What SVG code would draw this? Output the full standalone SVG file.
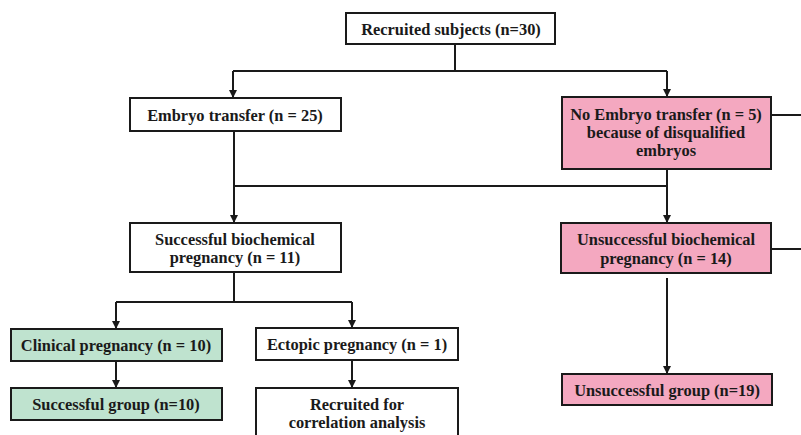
<svg xmlns="http://www.w3.org/2000/svg" width="801" height="435" viewBox="0 0 801 435">
<style>
.box{stroke:#1a1a1a;stroke-width:2;}
.w{fill:#ffffff;}
.p{fill:#f4a8c0;}
.g{fill:#bfe3cf;}
text{font-family:"Liberation Serif","Times New Roman",serif;font-weight:bold;font-size:16.4px;fill:#1a1a1a;text-anchor:middle;}
.ln{stroke:#1a1a1a;stroke-width:2;fill:none;}
</style>
<defs>
<marker id="ah" viewBox="0 0 10 10" refX="10" refY="5" markerWidth="8" markerHeight="8" markerUnits="userSpaceOnUse" orient="auto">
<path d="M0,0 L10,5 L0,10 Z" fill="#1a1a1a"/>
</marker>
</defs>
<rect width="801" height="435" fill="#ffffff"/>
<g id="connectors">
<path class="ln" d="M455,44 V71"/>
<path class="ln" d="M233,71 H667"/>
<path class="ln" d="M233,71 V98" marker-end="url(#ah)"/>
<path class="ln" d="M667,71 V97" marker-end="url(#ah)"/>
<path class="ln" d="M771,115 H801"/>
<path class="ln" d="M234,131 V223" marker-end="url(#ah)"/>
<path class="ln" d="M234,186 H667"/>
<path class="ln" d="M667,169 V223" marker-end="url(#ah)"/>
<path class="ln" d="M771,249 H801"/>
<path class="ln" d="M234,272 V302"/>
<path class="ln" d="M116,302 H352"/>
<path class="ln" d="M116,302 V329" marker-end="url(#ah)"/>
<path class="ln" d="M352,302 V328" marker-end="url(#ah)"/>
<path class="ln" d="M116,361 V388" marker-end="url(#ah)"/>
<path class="ln" d="M352,360 V388" marker-end="url(#ah)"/>
<path class="ln" d="M667,278 V374" marker-end="url(#ah)"/>
</g>
<g id="recruited">
<rect class="box w" x="346" y="13" width="209" height="31"/>
<text x="451" y="35">Recruited subjects (n=30)</text>
</g>
<g id="embryo-transfer">
<rect class="box w" x="130" y="98" width="211" height="33"/>
<text x="235" y="121">Embryo transfer (n = 25)</text>
</g>
<g id="no-embryo-transfer">
<rect class="box p" x="562" y="97" width="209" height="72"/>
<text x="666" y="120">No Embryo transfer (n = 5)</text>
<text x="666" y="138">because of disqualified</text>
<text x="666" y="156">embryos</text>
</g>
<g id="successful-biochemical">
<rect class="box w" x="130" y="223" width="211" height="49"/>
<text x="235" y="245">Successful biochemical</text>
<text x="235" y="263">pregnancy (n = 11)</text>
</g>
<g id="unsuccessful-biochemical">
<rect class="box p" x="561" y="223" width="210" height="50"/>
<text x="666" y="245">Unsuccessful biochemical</text>
<text x="666" y="264">pregnancy (n = 14)</text>
</g>
<g id="clinical-pregnancy">
<rect class="box g" x="11" y="329" width="211" height="32"/>
<text x="116" y="351">Clinical pregnancy (n = 10)</text>
</g>
<g id="ectopic-pregnancy">
<rect class="box w" x="256" y="328" width="202" height="32"/>
<text x="357" y="350">Ectopic pregnancy (n = 1)</text>
</g>
<g id="successful-group">
<rect class="box g" x="11" y="388" width="211" height="32"/>
<text x="116" y="410">Successful group (n=10)</text>
</g>
<g id="recruited-correlation">
<rect class="box w" x="256" y="388" width="202" height="60"/>
<text x="357" y="410">Recruited for</text>
<text x="357" y="428">correlation analysis</text>
</g>
<g id="unsuccessful-group">
<rect class="box p" x="562" y="374" width="210" height="31"/>
<text x="667" y="396">Unsuccessful group (n=19)</text>
</g>
</svg>
